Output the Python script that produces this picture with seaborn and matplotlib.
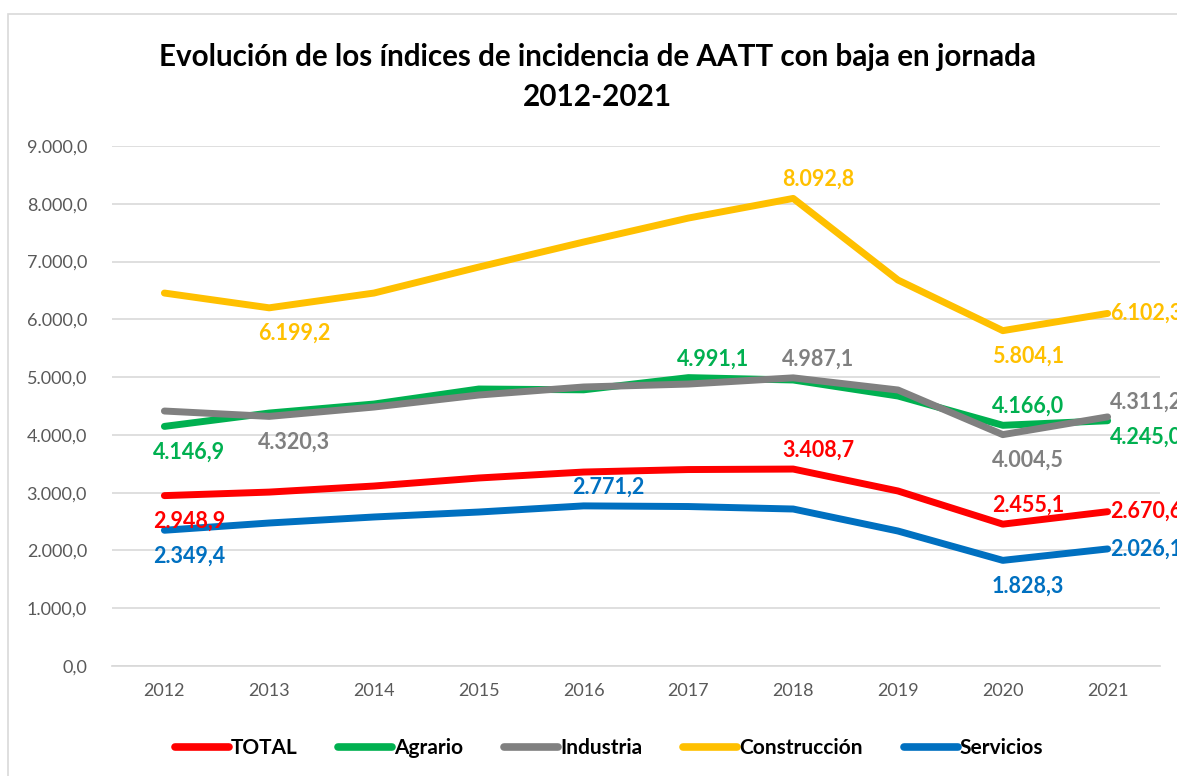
import matplotlib
matplotlib.use("Agg")
import matplotlib.pyplot as plt
import seaborn as sns
import pandas as pd
from matplotlib.patches import Rectangle

years = [2012, 2013, 2014, 2015, 2016, 2017, 2018, 2019, 2020, 2021]
total = [2948.9, 3010, 3115, 3254, 3357, 3400, 3408.7, 3029, 2455.1, 2670.6]
agrario = [4146.9, 4378, 4534, 4794, 4780, 4991.1, 4950, 4673, 4166.0, 4245.0]
industria = [4413, 4320.3, 4482, 4690, 4829, 4880, 4987.1, 4777, 4004.5, 4311.2]
construccion = [6455, 6199.2, 6455, 6905, 7338, 7753, 8092.8, 6680, 5804.1, 6102.3]
servicios = [2349.4, 2475, 2579, 2665, 2771.2, 2760, 2717, 2336, 1828.3, 2026.1]

series_names = ["TOTAL", "Agrario", "Industria", "Construcción", "Servicios"]
series_vals = [total, agrario, industria, construccion, servicios]
colors = ["#FF0000", "#00B050", "#808080", "#FFC000", "#0070C0"]

# labelled points: (year index, position)
labels = {
    "TOTAL": [(0, "below"), (6, "above"), (8, "above"), (9, "right")],
    "Agrario": [(0, "below"), (5, "above"), (8, "above"), (9, "rightbelow")],
    "Industria": [(1, "below"), (6, "above"), (8, "below"), (9, "rightabove")],
    "Construcción": [(1, "below"), (6, "above"), (8, "below"), (9, "right")],
    "Servicios": [(0, "below"), (4, "above"), (8, "below"), (9, "right")],
}

rows = []
for name, vals in zip(series_names, series_vals):
    for y, v in zip(years, vals):
        rows.append({"Año": y, "Valor": v, "Serie": name})
df = pd.DataFrame(rows)

sns.set_theme(style="white")
plt.rcParams["font.family"] = ["Lato", "DejaVu Sans"]

fig = plt.figure(figsize=(11.77, 7.76), dpi=100)
fig.patches.append(Rectangle((8 / 1177, -0.1), 1.2, 1 - 14 / 776 + 0.1,
                             transform=fig.transFigure, fill=False,
                             edgecolor="#d9d9d9", linewidth=1.2))
ax = fig.add_axes([112 / 1177, 1 - 666 / 776, 1048 / 1177, 520 / 776])

sns.lineplot(data=df, x="Año", y="Valor", hue="Serie", hue_order=series_names,
             palette=colors, linewidth=5, ax=ax, legend=True,
             solid_capstyle="round")

ax.set_xlim(2011.5, 2021.5)
ax.set_ylim(0, 9000)
ax.set_yticks(range(0, 9001, 1000))
ax.set_xticks(years)
ax.set_xticklabels([str(y) for y in years], fontsize=13, color="#595959")


def fmt(v):
    s = f"{v:,.1f}"
    return s.replace(",", "X").replace(".", ",").replace("X", ".")


ax.set_yticklabels([fmt(v) for v in range(0, 9001, 1000)], fontsize=13, color="#595959")
ax.tick_params(axis="x", length=0, pad=12)
ax.tick_params(axis="y", length=0, pad=18)
ax.grid(axis="y", color="#d9d9d9", linewidth=1.2)
ax.set_axisbelow(True)
for s in ["top", "right", "left"]:
    ax.spines[s].set_visible(False)
ax.spines["bottom"].set_color("#d9d9d9")
ax.set_xlabel("")
ax.set_ylabel("")

offsets = {
    "below": ((18, -11), "center", "top"),
    "above": ((18, 6), "center", "bottom"),
    "right": ((2, 0), "left", "center"),
    "rightbelow": ((2, -4), "left", "top"),
    "rightabove": ((2, 3), "left", "bottom"),
}
for name, vals, col in zip(series_names, series_vals, colors):
    for idx, pos in labels[name]:
        off, ha, va = offsets[pos]
        ax.annotate(fmt(vals[idx]), (years[idx], vals[idx]), xytext=off,
                    textcoords="offset points", ha=ha, va=va, color=col,
                    fontsize=15.5, fontweight="bold", annotation_clip=False)

fig.text(0.508, 1 - 57 / 776, "Evolución de los índices de incidencia de AATT con baja en jornada",
         ha="center", va="center", fontsize=21.3, fontweight="bold", color="black")
fig.text(0.508, 1 - 97 / 776, "2012-2021",
         ha="center", va="center", fontsize=21.3, fontweight="bold", color="black")

handles, lbls = ax.get_legend_handles_labels()
leg = ax.legend(handles, lbls, loc="center", bbox_to_anchor=(609 / 1177, 1 - 748 / 776),
                bbox_transform=fig.transFigure, ncol=5, frameon=False,
                handlelength=2.6, handletextpad=0.1, columnspacing=1.95,
                prop={"size": 15, "weight": "bold"})
for line in leg.get_lines():
    line.set_linewidth(5.5)
    line.set_solid_capstyle("round")
for t in leg.get_texts():
    t.set_color("black")

fig.savefig("out.png", dpi=100)
